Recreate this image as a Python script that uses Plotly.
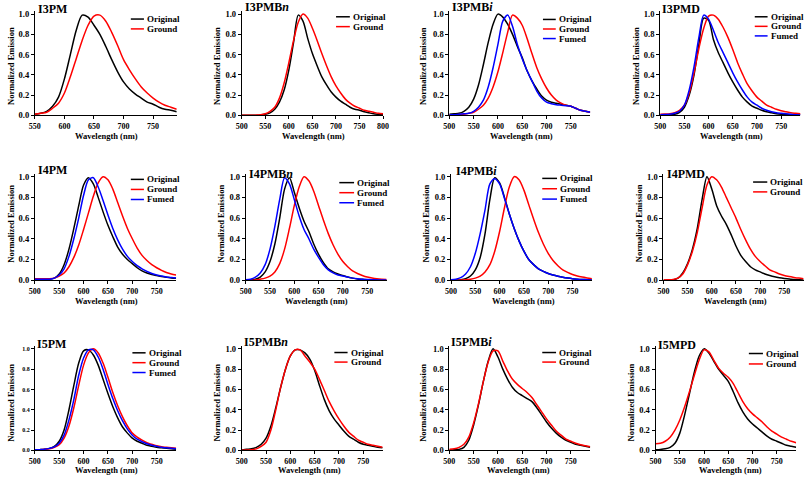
import plotly.graph_objects as go

# ---------------- data ----------------
wl_550_790 = [550, 560, 570, 580, 590, 600, 610, 620, 630, 640, 650, 660, 670, 680, 690,
              700, 710, 720, 730, 740, 750, 760, 770, 780, 790]
wl_500_790 = [500, 510, 520, 530, 540, 550, 560, 570, 580, 590, 600, 610, 620, 630, 640,
              650, 660, 670, 680, 690, 700, 710, 720, 730, 740, 750, 760, 770, 780, 790]
wl_500_800 = wl_500_790 + [800]

ticks_550_750 = [550, 600, 650, 700, 750]
ticks_500_750 = [500, 550, 600, 650, 700, 750]
ticks_500_800 = [500, 550, 600, 650, 700, 750, 800]
y_ticks = [0.0, 0.2, 0.4, 0.6, 0.8, 1.0]

# I3PM
i3pm_original = [0.01, 0.02, 0.04, 0.09, 0.18, 0.36, 0.6, 0.84, 0.99, 0.97, 0.89, 0.8, 0.68,
                 0.55, 0.43, 0.33, 0.26, 0.21, 0.17, 0.13, 0.11, 0.08, 0.06, 0.05, 0.035]
i3pm_ground = [0.01, 0.02, 0.03, 0.07, 0.12, 0.22, 0.38, 0.56, 0.74, 0.89, 0.98, 0.99, 0.93,
               0.82, 0.69, 0.55, 0.45, 0.36, 0.28, 0.22, 0.17, 0.13, 0.1, 0.08, 0.06]
# I3PMBn
i3pmbn_original = [0, 0, 0, 0, 0.003, 0.01, 0.025, 0.06, 0.13, 0.25, 0.45, 0.72, 0.99, 0.93,
                   0.76, 0.61, 0.49, 0.38, 0.3, 0.23, 0.18, 0.14, 0.11, 0.08, 0.06, 0.05,
                   0.035, 0.025, 0.015, 0.01, 0.005]
i3pmbn_ground = [0, 0, 0, 0.002, 0.005, 0.015, 0.04, 0.08, 0.17, 0.32, 0.52, 0.74, 0.92, 1.0,
                 0.96, 0.86, 0.74, 0.61, 0.49, 0.38, 0.29, 0.22, 0.16, 0.12, 0.09, 0.07, 0.05,
                 0.04, 0.03, 0.02, 0.015]
# I3PMBi
i3pmbi_original = [0.01, 0.015, 0.02, 0.04, 0.08, 0.16, 0.3, 0.5, 0.72, 0.9, 1.0, 0.97, 0.9,
                   0.8, 0.68, 0.57, 0.44, 0.34, 0.26, 0.19, 0.15, 0.13, 0.12, 0.11, 0.1, 0.09,
                   0.07, 0.05, 0.04, 0.03]
i3pmbi_ground = [0.005, 0.005, 0.008, 0.01, 0.02, 0.03, 0.06, 0.1, 0.17, 0.28, 0.43, 0.62,
                 0.82, 0.99, 0.96, 0.89, 0.76, 0.61, 0.47, 0.36, 0.27, 0.2, 0.15, 0.12, 0.1,
                 0.09, 0.07, 0.05, 0.04, 0.03]
i3pmbi_fumed = [0.005, 0.005, 0.01, 0.015, 0.02, 0.04, 0.08, 0.15, 0.28, 0.47, 0.7, 0.93,
                0.99, 0.88, 0.7, 0.56, 0.44, 0.34, 0.24, 0.17, 0.13, 0.115, 0.105, 0.1, 0.095,
                0.09, 0.07, 0.05, 0.04, 0.03]
# I3PMD
i3pmd_original = [0, 0, 0.003, 0.01, 0.03, 0.08, 0.2, 0.4, 0.7, 0.96, 0.94, 0.75, 0.62, 0.52,
                  0.42, 0.33, 0.25, 0.18, 0.13, 0.09, 0.07, 0.05, 0.035, 0.025, 0.015, 0.01,
                  0.007, 0.005, 0.003, 0.002]
i3pmd_ground = [0.01, 0.012, 0.015, 0.025, 0.05, 0.1, 0.22, 0.42, 0.66, 0.86, 0.98, 0.99,
                0.95, 0.87, 0.77, 0.65, 0.52, 0.41, 0.31, 0.24, 0.18, 0.14, 0.1, 0.08, 0.06,
                0.045, 0.035, 0.025, 0.02, 0.015]
i3pmd_fumed = [0.005, 0.008, 0.01, 0.02, 0.04, 0.1, 0.25, 0.48, 0.77, 0.99, 0.95, 0.84, 0.72,
               0.62, 0.52, 0.42, 0.33, 0.25, 0.18, 0.13, 0.1, 0.07, 0.05, 0.035, 0.025, 0.02,
               0.015, 0.01, 0.005, 0.003]
# I4PM
i4pm_original = [0.005, 0.005, 0.005, 0.01, 0.02, 0.06, 0.15, 0.3, 0.5, 0.72, 0.92, 0.99, 0.93,
                 0.8, 0.66, 0.53, 0.42, 0.32, 0.25, 0.2, 0.16, 0.12, 0.09, 0.07, 0.055, 0.045,
                 0.035, 0.028, 0.022, 0.018]
i4pm_ground = [0.015, 0.015, 0.015, 0.015, 0.02, 0.04, 0.07, 0.13, 0.22, 0.34, 0.49, 0.65,
               0.81, 0.94, 1.0, 0.97, 0.88, 0.75, 0.62, 0.5, 0.4, 0.31, 0.24, 0.19, 0.15, 0.12,
               0.095, 0.075, 0.06, 0.05]
i4pm_fumed = [0.01, 0.01, 0.01, 0.01, 0.02, 0.05, 0.11, 0.23, 0.4, 0.6, 0.82, 0.97, 0.99, 0.9,
              0.77, 0.63, 0.5, 0.39, 0.3, 0.23, 0.18, 0.14, 0.11, 0.085, 0.065, 0.05, 0.04,
              0.03, 0.025, 0.02]
# I4PMBn
i4pmbn_original = [0, 0.002, 0.01, 0.03, 0.08, 0.18, 0.35, 0.6, 0.88, 0.99, 0.85, 0.7, 0.57,
                   0.47, 0.35, 0.25, 0.17, 0.11, 0.08, 0.06, 0.045, 0.03, 0.02, 0.012, 0.008,
                   0.005, 0.003, 0.002, 0.001, 0]
i4pmbn_ground = [0, 0, 0.003, 0.01, 0.02, 0.04, 0.08, 0.16, 0.3, 0.5, 0.72, 0.9, 1.0, 0.96,
                 0.86, 0.72, 0.58, 0.45, 0.34, 0.25, 0.18, 0.13, 0.09, 0.065, 0.045, 0.03,
                 0.022, 0.015, 0.01, 0.006]
i4pmbn_fumed = [0.005, 0.01, 0.03, 0.07, 0.15, 0.3, 0.52, 0.78, 0.99, 0.93, 0.78, 0.62, 0.49,
                0.4, 0.3, 0.22, 0.15, 0.1, 0.07, 0.05, 0.04, 0.03, 0.02, 0.014, 0.01, 0.007,
                0.005, 0.003, 0.002, 0.001]
# I4PMBi
i4pmbi_original = [0, 0.002, 0.005, 0.015, 0.04, 0.1, 0.22, 0.45, 0.78, 0.99, 0.94, 0.8, 0.64,
                   0.5, 0.38, 0.28, 0.2, 0.15, 0.11, 0.085, 0.065, 0.05, 0.038, 0.028, 0.02,
                   0.014, 0.01, 0.007, 0.005, 0.003]
i4pmbi_ground = [0, 0, 0.002, 0.005, 0.01, 0.02, 0.04, 0.08, 0.15, 0.28, 0.47, 0.7, 0.9, 1.0,
                 0.97, 0.87, 0.73, 0.59, 0.46, 0.35, 0.26, 0.19, 0.14, 0.1, 0.075, 0.055, 0.04,
                 0.03, 0.022, 0.015]
i4pmbi_fumed = [0.005, 0.01, 0.025, 0.06, 0.13, 0.26, 0.45, 0.68, 0.93, 0.98, 0.93, 0.79,
                0.64, 0.5, 0.38, 0.28, 0.2, 0.15, 0.11, 0.085, 0.065, 0.05, 0.038, 0.028, 0.02,
                0.014, 0.01, 0.007, 0.005, 0.003]
# I4PMD
i4pmd_original = [0, 0, 0.003, 0.02, 0.07, 0.16, 0.3, 0.5, 0.78, 1.0, 0.88, 0.72, 0.62, 0.54,
                  0.44, 0.33, 0.24, 0.18, 0.13, 0.1, 0.08, 0.06, 0.045, 0.033, 0.024, 0.017,
                  0.011, 0.007, 0.004, 0.002]
i4pmd_ground = [0.003, 0.005, 0.008, 0.02, 0.06, 0.15, 0.28, 0.46, 0.7, 0.92, 1.0, 0.97, 0.9,
                0.8, 0.7, 0.6, 0.49, 0.39, 0.3, 0.23, 0.18, 0.14, 0.1, 0.08, 0.06, 0.045, 0.035,
                0.027, 0.02, 0.015]
# I5PM
i5pm_original = [0.005, 0.007, 0.01, 0.02, 0.04, 0.09, 0.2, 0.4, 0.64, 0.86, 0.98, 0.99, 0.94,
                 0.84, 0.7, 0.56, 0.43, 0.32, 0.23, 0.17, 0.12, 0.09, 0.07, 0.05, 0.04, 0.03,
                 0.025, 0.02, 0.015, 0.01]
i5pm_ground = [0.005, 0.007, 0.01, 0.015, 0.03, 0.055, 0.12, 0.24, 0.42, 0.64, 0.84, 0.96, 1.0,
               0.96, 0.86, 0.72, 0.57, 0.44, 0.33, 0.24, 0.17, 0.13, 0.1, 0.075, 0.06, 0.045,
               0.035, 0.03, 0.025, 0.02]
i5pm_fumed = [0.005, 0.007, 0.01, 0.02, 0.035, 0.07, 0.15, 0.3, 0.5, 0.74, 0.91, 0.99, 0.99,
              0.92, 0.8, 0.65, 0.51, 0.39, 0.29, 0.21, 0.15, 0.11, 0.085, 0.065, 0.05, 0.04,
              0.03, 0.025, 0.02, 0.015]
# I5PMBn
i5pmbn_original = [0.005, 0.01, 0.015, 0.03, 0.06, 0.12, 0.24, 0.42, 0.62, 0.8, 0.93, 0.99,
                   0.99, 0.96, 0.9, 0.79, 0.64, 0.5, 0.39, 0.31, 0.25, 0.19, 0.14, 0.11, 0.08,
                   0.06, 0.05, 0.04, 0.03, 0.025]
i5pmbn_ground = [0.002, 0.004, 0.006, 0.015, 0.04, 0.08, 0.2, 0.4, 0.62, 0.8, 0.93, 0.99, 0.99,
                 0.93, 0.87, 0.8, 0.7, 0.59, 0.48, 0.39, 0.31, 0.24, 0.18, 0.14, 0.1, 0.08,
                 0.06, 0.05, 0.04, 0.03]
# I5PMBi
i5pmbi_original = [0.005, 0.005, 0.01, 0.03, 0.1, 0.25, 0.45, 0.68, 0.88, 1.0, 0.92, 0.8, 0.7,
                   0.62, 0.57, 0.54, 0.51, 0.48, 0.42, 0.35, 0.28, 0.22, 0.17, 0.13, 0.1, 0.08,
                   0.06, 0.05, 0.04, 0.03]
i5pmbi_ground = [0.01, 0.015, 0.03, 0.06, 0.13, 0.27, 0.46, 0.68, 0.87, 0.98, 0.98, 0.88, 0.78,
                 0.7, 0.65, 0.61, 0.57, 0.52, 0.45, 0.38, 0.31, 0.25, 0.19, 0.15, 0.11, 0.09,
                 0.07, 0.055, 0.045, 0.035]
# I5MPD
i5mpd_original = [0.005, 0.008, 0.015, 0.03, 0.07, 0.17, 0.35, 0.56, 0.77, 0.93, 1.0, 0.96,
                  0.88, 0.8, 0.74, 0.68, 0.58, 0.47, 0.38, 0.31, 0.26, 0.22, 0.18, 0.14, 0.11,
                  0.09, 0.07, 0.05, 0.04, 0.03]
i5mpd_ground = [0.065, 0.07, 0.09, 0.13, 0.2, 0.3, 0.43, 0.58, 0.74, 0.89, 0.99, 0.97, 0.89,
                0.81, 0.76, 0.72, 0.66, 0.57, 0.48, 0.41, 0.36, 0.32, 0.28, 0.23, 0.19, 0.16,
                0.13, 0.11, 0.09, 0.075]

# ---------------- layout constants (pixels) ----------------
W, H = 812, 481
BLACK, RED, BLUE = "#000000", "#ff0000", "#0000ff"
FONT = "Liberation Serif, Times New Roman, serif"

rows = {1: (115.0, 9.2, 136.0, 65.0), 2: (282.3, 174.1, 303.3, 225.0), 3: (455.0, 348.9, 474.5, 406.7)}

panels = [
    dict(title="I3PM", row=1, x0=29.3, x1=173.3, xr=[550, 790], wl=wl_550_790, xt=ticks_550_750,
         series=[("Original", i3pm_original, BLACK), ("Ground", i3pm_ground, RED)],
         tpos=(30.7, 6.7), lg=(126.7, 140.0, 17.3, 10.0), xtit=101.7, ytit=5.0),
    dict(title="I3PMB<i>n</i>", row=1, x0=239.3, x1=382.7, xr=[500, 800], wl=wl_500_800, xt=ticks_500_800,
         series=[("Original", i3pmbn_original, BLACK), ("Ground", i3pmbn_ground, RED)],
         tpos=(240.7, 5.5), lg=(335.0, 349.0, 15.0, 10.0), xtit=311.7, ytit=214.0),
    dict(title="I3PMB<i>i</i>", row=1, x0=450.0, x1=593.0, xr=[500, 790], wl=wl_500_790, xt=ticks_500_750,
         series=[("Original", i3pmbi_original, BLACK), ("Ground", i3pmbi_ground, RED),
                 ("Fumed", i3pmbi_fumed, BLUE)],
         tpos=(450.7, 5.5), lg=(545.0, 558.0, 17.7, 9.7), xtit=523.3, ytit=423.3),
    dict(title="I3PMD", row=1, x0=664.0, x1=806.4, xr=[500, 790], wl=wl_500_790, xt=ticks_500_750,
         series=[("Original", i3pmd_original, BLACK), ("Ground", i3pmd_ground, RED),
                 ("Fumed", i3pmd_fumed, BLUE)],
         tpos=(664.3, 6.7), lg=(760.0, 773.0, 15.0, 9.7), xtit=736.7, ytit=639.3),
    dict(title="I4PM", row=2, x0=29.3, x1=172.7, xr=[500, 790], wl=wl_500_790, xt=ticks_500_750,
         series=[("Original", i4pm_original, BLACK), ("Ground", i4pm_ground, RED),
                 ("Fumed", i4pm_fumed, BLUE)],
         tpos=(30.7, 170.0), lg=(126.7, 140.0, 180.0, 10.2), xtit=101.7, ytit=5.0),
    dict(title="I4PMB<i>n</i>", row=2, x0=243.3, x1=386.3, xr=[500, 790], wl=wl_500_790, xt=ticks_500_750,
         series=[("Original", i4pmbn_original, BLACK), ("Ground", i4pmbn_ground, RED),
                 ("Fumed", i4pmbn_fumed, BLUE)],
         tpos=(244.3, 175.0), lg=(338.3, 353.3, 183.3, 10.2), xtit=315.0, ytit=218.0),
    dict(title="I4PMB<i>i</i>", row=2, x0=451.7, x1=594.7, xr=[500, 790], wl=wl_500_790, xt=ticks_500_750,
         series=[("Original", i4pmbi_original, BLACK), ("Ground", i4pmbi_ground, RED),
                 ("Fumed", i4pmbi_fumed, BLUE)],
         tpos=(454.3, 171.7), lg=(544.3, 559.3, 179.0, 10.5), xtit=525.0, ytit=426.0),
    dict(title="I4PMD", row=2, x0=667.3, x1=809.6, xr=[500, 790], wl=wl_500_790, xt=ticks_500_750,
         series=[("Original", i4pmd_original, BLACK), ("Ground", i4pmd_ground, RED)],
         tpos=(669.3, 175.0), lg=(758.3, 772.7, 182.7, 10.0), xtit=740.0, ytit=642.0),
    dict(title="I5PM", row=3, x0=29.3, x1=172.7, xr=[500, 790], wl=wl_500_790, xt=ticks_500_750,
         series=[("Original", i5pm_original, BLACK), ("Ground", i5pm_ground, RED),
                 ("Fumed", i5pm_fumed, BLUE)],
         tpos=(29.7, 347.3), lg=(128.3, 141.7, 356.0, 10.0), xtit=101.7, ytit=5.0, ysmall=True),
    dict(title="I5PMB<i>n</i>", row=3, x0=239.3, x1=382.3, xr=[500, 790], wl=wl_500_790, xt=ticks_500_750,
         series=[("Original", i5pmbn_original, BLACK), ("Ground", i5pmbn_ground, RED)],
         tpos=(239.3, 345.0), lg=(333.3, 346.7, 355.7, 9.7), xtit=308.3, ytit=214.0),
    dict(title="I5PMB<i>i</i>", row=3, x0=450.0, x1=593.0, xr=[500, 790], wl=wl_500_790, xt=ticks_500_750,
         series=[("Original", i5pmbi_original, BLACK), ("Ground", i5pmbi_ground, RED)],
         tpos=(450.0, 345.0), lg=(544.3, 558.3, 355.7, 9.7), xtit=520.0, ytit=423.3),
    dict(title="I5MPD", row=3, x0=659.3, x1=802.0, xr=[500, 790], wl=wl_500_790, xt=ticks_500_750,
         series=[("Original", i5mpd_original, BLACK), ("Ground", i5mpd_ground, RED)],
         tpos=(659.3, 347.7), lg=(754.0, 768.3, 356.7, 10.6), xtit=735.0, ytit=634.0),
]

fig = go.Figure()
annotations = []
shapes = []


def px(x):
    return x / W


def py(y):
    return 1 - y / H


for i, p in enumerate(panels, start=1):
    suffix = "" if i == 1 else str(i)
    xa, ya = "x" + suffix, "y" + suffix
    ybot, ytop, xtit_y, ytit_y = rows[p["row"]]
    for name, vals, color in p["series"]:
        fig.add_trace(go.Scatter(x=p["wl"], y=vals, mode="lines", name=name, showlegend=False,
                                 hoverinfo="skip",
                                 line=dict(color=color, width=1.5, shape="spline", smoothing=0.8),
                                 xaxis=xa, yaxis=ya))
    fig.layout["xaxis" + suffix] = dict(
        domain=[px(p["x0"]), px(p["x1"])], range=p["xr"], anchor=ya,
        tickvals=p["xt"], ticks="outside", ticklen=3, tickwidth=1, tickcolor="black",
        showline=True, linecolor="black", linewidth=1, showgrid=False, zeroline=False,
        tickfont=dict(family=FONT, size=8, color="black", weight="bold"))
    fig.layout["yaxis" + suffix] = dict(
        domain=[py(ybot), py(ytop)], range=[0, 1.03], anchor=xa,
        tickvals=y_ticks, tickformat=".1f", ticks="outside", ticklen=3, tickwidth=1,
        tickcolor="black", showline=True, linecolor="black", linewidth=1, showgrid=False,
        zeroline=False,
        tickfont=dict(family=FONT, size=6 if p.get("ysmall") else 8.5, color="black", weight="bold"))
    # panel title
    annotations.append(dict(text="<b>" + p["title"] + "</b>", x=px(p["tpos"][0]), y=py(p["tpos"][1]),
                            xref="paper", yref="paper", xanchor="left", yanchor="middle",
                            showarrow=False, font=dict(family=FONT, size=12, color="black")))
    # axis titles
    annotations.append(dict(text="<b>Wavelength (nm)</b>", x=px(p["xtit"]), y=py(xtit_y),
                            xref="paper", yref="paper", xanchor="center", yanchor="middle",
                            showarrow=False, font=dict(family=FONT, size=8.5, color="black")))
    annotations.append(dict(text="<b>Normalized Emission</b>", x=px(p["ytit"]), y=py(ytit_y),
                            xref="paper", yref="paper", xanchor="center", yanchor="middle",
                            textangle=-90, showarrow=False,
                            font=dict(family=FONT, size=8.5, color="black")))
    # legend (key line + label)
    lx0, lx1, ly0, dy = p["lg"]
    for k, (name, vals, color) in enumerate(p["series"]):
        yy = ly0 + k * dy
        shapes.append(dict(type="line", xref="paper", yref="paper", x0=px(lx0), x1=px(lx1),
                           y0=py(yy), y1=py(yy), line=dict(color=color, width=1.5)))
        annotations.append(dict(text="<b>" + name + "</b>", x=px(lx1 + 1), y=py(yy),
                                xref="paper", yref="paper", xanchor="left", yanchor="middle",
                                showarrow=False, font=dict(family=FONT, size=9, color="black")))

fig.update_layout(width=W, height=H, margin=dict(l=0, r=0, t=0, b=0),
                  paper_bgcolor="white", plot_bgcolor="white", hovermode=False,
                  annotations=annotations, shapes=shapes, showlegend=False)

fig.write_html("out.html",
               config={"displayModeBar": False, "staticPlot": True},
               post_script="document.body.style.margin='0px';document.body.style.padding='0px';"
                           "document.body.style.overflow='hidden';")
